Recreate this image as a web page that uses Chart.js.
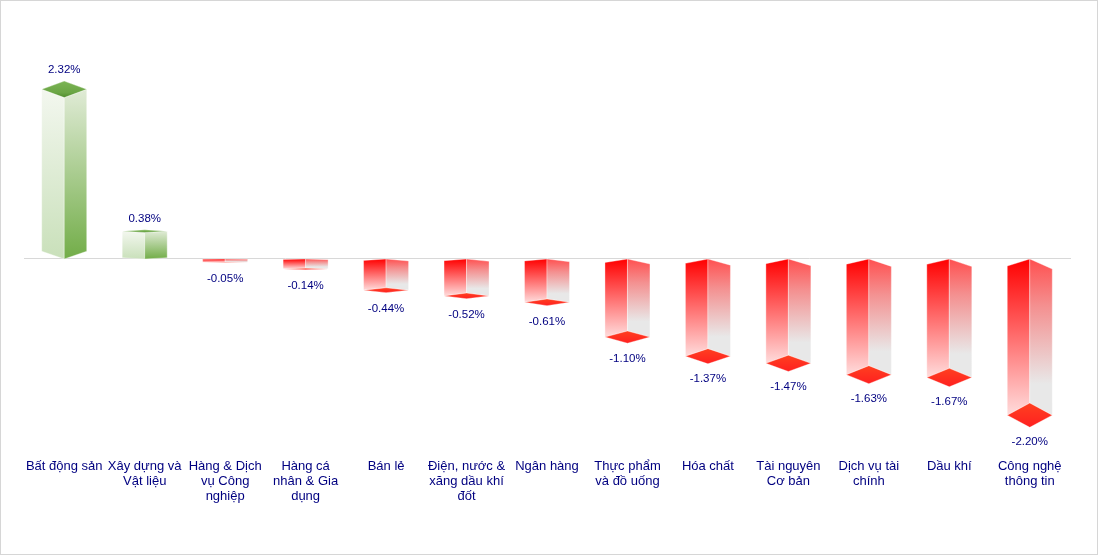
<!DOCTYPE html>
<html>
<head>
<meta charset="utf-8">
<title>Biến động theo ngành</title>
<script src="https://cdn.jsdelivr.net/npm/chart.js@4"></script>
<style>
    html, body { margin: 0; padding: 0; background: #fff; }
    canvas { display: block; }
</style>
</head>
<body>
<canvas id="sectorChart" width="1098" height="555"></canvas>
<script>
const categories = [
    ['Bất động sản'],
    ['Xây dựng và', 'Vật liệu'],
    ['Hàng & Dịch', 'vụ Công', 'nghiệp'],
    ['Hàng cá', 'nhân & Gia', 'dụng'],
    ['Bán lẻ'],
    ['Điện, nước &', 'xăng dầu khí', 'đốt'],
    ['Ngân hàng'],
    ['Thực phẩm', 'và đồ uống'],
    ['Hóa chất'],
    ['Tài nguyên', 'Cơ bản'],
    ['Dịch vụ tài', 'chính'],
    ['Dầu khí'],
    ['Công nghệ', 'thông tin']
];
const changes = [2.32, 0.38, -0.05, -0.14, -0.44, -0.52, -0.61, -1.10, -1.37, -1.47, -1.63, -1.67, -2.20];

const textColor = '#000080';

function fillFace(ctx, points, top, bottom, stops) {
    const grad = ctx.createLinearGradient(0, top, 0, bottom);
    stops.forEach(s => grad.addColorStop(s[0], s[1]));
    ctx.fillStyle = grad;
    ctx.strokeStyle = 'rgba(255, 255, 255, 0.35)';
    ctx.beginPath();
    points.forEach((p, i) => i ? ctx.lineTo(p[0], p[1]) : ctx.moveTo(p[0], p[1]));
    ctx.closePath();
    ctx.fill();
    ctx.stroke();
}

function drawUpBar(ctx, x, hw, base, y) {
    const h = base - y;
    const ym = y - h * 0.03;
    const d = h * 0.047;
    const dz = h * 0.05;
    fillFace(ctx, [[x, base], [x - hw, base - d], [x - hw, ym], [x, ym + dz]], ym, base,
        [[0, '#f3f7ef'], [1, '#c9e0ba']]);
    fillFace(ctx, [[x, base], [x + hw, base - d], [x + hw, ym], [x, ym + dz]], ym, base,
        [[0, '#e0ebd6'], [1, '#72ad48']]);
    fillFace(ctx, [[x - hw, ym], [x, ym - dz], [x + hw, ym], [x, ym + dz]], ym - dz, ym + dz,
        [[0, '#7cb455'], [0.7, '#6aa544'], [1, '#4f8c2c']]);
    return ym - dz - 11.5;
}

function drawDownBar(ctx, x, hw, base, y) {
    const h = y - base;
    const dl = h * 0.045;
    const dr = h * 0.064;
    const dz = h * 0.078;
    fillFace(ctx, [[x, base], [x - hw, base + dl], [x - hw, y], [x, y - dz]], base, y,
        [[0, '#ff0000'], [1, '#ffdcdc']]);
    fillFace(ctx, [[x, base], [x + hw, base + dr], [x + hw, y], [x, y - dz]], base, y,
        [[0, '#ff5050'], [0.3, '#f49090'], [0.8, '#e8e8e8'], [1, '#e8e8e8']]);
    fillFace(ctx, [[x - hw, y], [x, y - dz], [x + hw, y], [x, y + dz]], y - dz, y + dz,
        [[0, '#ff4020'], [1, '#ff2020']]);
    return y + dz * 0.83 + 16.5;
}

// the bars themselves stay transparent, this paints the 3D boxes on top of them
const boxBars = {
    id: 'boxBars',
    beforeDraw(chart) {
        const ctx = chart.ctx;
        ctx.save();
        ctx.strokeStyle = '#d6d6d6';
        ctx.strokeRect(0.5, 0.5, chart.width - 1, chart.height - 1);
        const zero = Math.round(chart.scales.y.getPixelForValue(0)) - 0.5;
        ctx.strokeStyle = '#d8d8d8';
        ctx.beginPath();
        ctx.moveTo(chart.chartArea.left, zero);
        ctx.lineTo(chart.chartArea.right + 1, zero);
        ctx.stroke();
        ctx.restore();
    },
    afterDatasetsDraw(chart) {
        const ctx = chart.ctx;
        ctx.save();
        ctx.font = '11.5px "Liberation Sans", Arial, sans-serif';
        ctx.textAlign = 'center';
        ctx.textBaseline = 'middle';
        chart.getDatasetMeta(0).data.forEach((bar, i) => {
            const hw = bar.width / 2;
            const labelY = changes[i] >= 0
                ? drawUpBar(ctx, bar.x, hw, bar.base, bar.y)
                : drawDownBar(ctx, bar.x, hw, bar.base, bar.y);
            ctx.fillStyle = textColor;
            ctx.fillText(changes[i].toFixed(2) + '%', bar.x, labelY);
        });
        ctx.restore();
    }
};

function renderSectorChart() {
    const ctx = document.getElementById('sectorChart').getContext('2d');
    new Chart(ctx, {
        type: 'bar',
        data: {
            labels: categories,
            datasets: [{
                data: changes,
                backgroundColor: 'transparent',
                barThickness: 45
            }]
        },
        options: {
            responsive: false,
            animation: false,
            layout: { padding: { left: 24, right: 28, top: 46 } },
            plugins: {
                legend: { display: false },
                tooltip: { enabled: false }
            },
            scales: {
                x: {
                    grid: { display: false },
                    border: { display: false },
                    afterFit(scale) { scale.height = 109; },
                    ticks: {
                        autoSkip: false,
                        maxRotation: 0,
                        minRotation: 0,
                        padding: 5,
                        color: textColor,
                        font: { family: '"Liberation Sans", Arial, sans-serif', size: 13, lineHeight: 1.16 }
                    }
                },
                y: {
                    display: false,
                    min: -2.634,
                    max: 3
                }
            }
        },
        plugins: [boxBars]
    });
}

renderSectorChart();
</script>
</body>
</html>
